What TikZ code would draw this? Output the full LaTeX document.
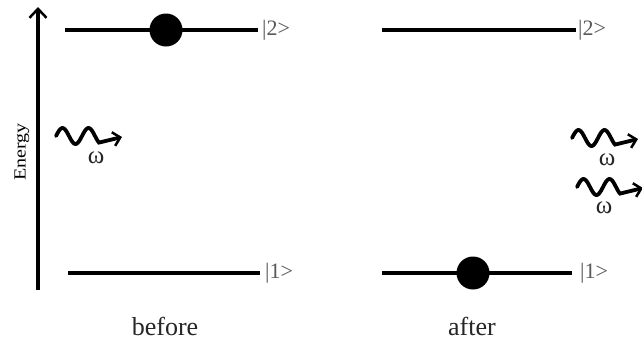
\documentclass[tikz,border=0pt]{standalone}
\usepackage{fontspec}
\usepackage{graphicx}
\setmainfont{Liberation Serif}
\usetikzlibrary{arrows.meta}
\begin{document}
\begin{tikzpicture}[x=1pt,y=-1pt,
  level/.style={line width=4pt},
  axis/.style={line width=3.5pt,-{Straight Barb[length=9pt,width=17pt,line width=2.5pt]}},
  electron/.style={circle,fill=black,draw=none,inner sep=0pt,minimum size=33pt},
  ket/.style={anchor=west,inner sep=0pt,text=black!65,font=\fontsize{22}{22}\selectfont},
  caption/.style={inner sep=0pt,text=black!85,font=\fontsize{26}{26}\selectfont},
  freq/.style={inner sep=0pt,text=black!85,font=\fontsize{25}{25}\selectfont},
  photon line/.style={line width=3.8pt,line cap=round,-{Straight Barb[length=7pt,width=14pt,line width=2.5pt]}},
  photon/.pic={\draw[photon line] plot[domain=0:43,samples=60,smooth] (\x,{-8*sin(\x*360/26)}) -- (66,1);},
]
\useasboundingbox (0,0) rectangle (642,341);

% energy axis
\coordinate (axbot) at (38,290);
\coordinate (axtop) at (38,7);
\draw[axis] (axbot) -- (axtop);
\node[rotate=90,inner sep=0pt,font=\fontsize{17}{17}\selectfont] (energy) at (22,152) {\scalebox{1.18}[1]{Energy}};

% before: levels and electron in |2>
\coordinate (b2l) at (65,30);
\coordinate (b2r) at (258,30);
\coordinate (b1l) at (68,273);
\coordinate (b1r) at (260,273);
\draw[level] (b2l) -- (b2r);
\draw[level] (b1l) -- (b1r);
\node[electron] (eb) at (166,30) {};
\node[ket] (kb2) at (262,30) {|2>};
\node[ket] (kb1) at (265,273) {|1>};
\node[caption] (before) at (165,326) {before};

% after: levels and electron in |1>
\coordinate (a2l) at (382,30);
\coordinate (a2r) at (576,30);
\coordinate (a1l) at (382,273);
\coordinate (a1r) at (572,273);
\draw[level] (a2l) -- (a2r);
\draw[level] (a1l) -- (a1r);
\node[electron] (ea) at (473,273) {};
\node[ket] (ka2) at (578,30) {|2>};
\node[ket] (ka1) at (580,273) {|1>};
\node[caption] (after) at (472,326) {after};

% photons
\pic at (56,136) {photon};
\node[freq] (w1) at (96,158) {ω};
\pic at (572,138) {photon};
\node[freq] (w2) at (607,160) {ω};
\pic at (577,187) {photon};
\node[freq] (w3) at (604,208) {ω};
\end{tikzpicture}
\end{document}
